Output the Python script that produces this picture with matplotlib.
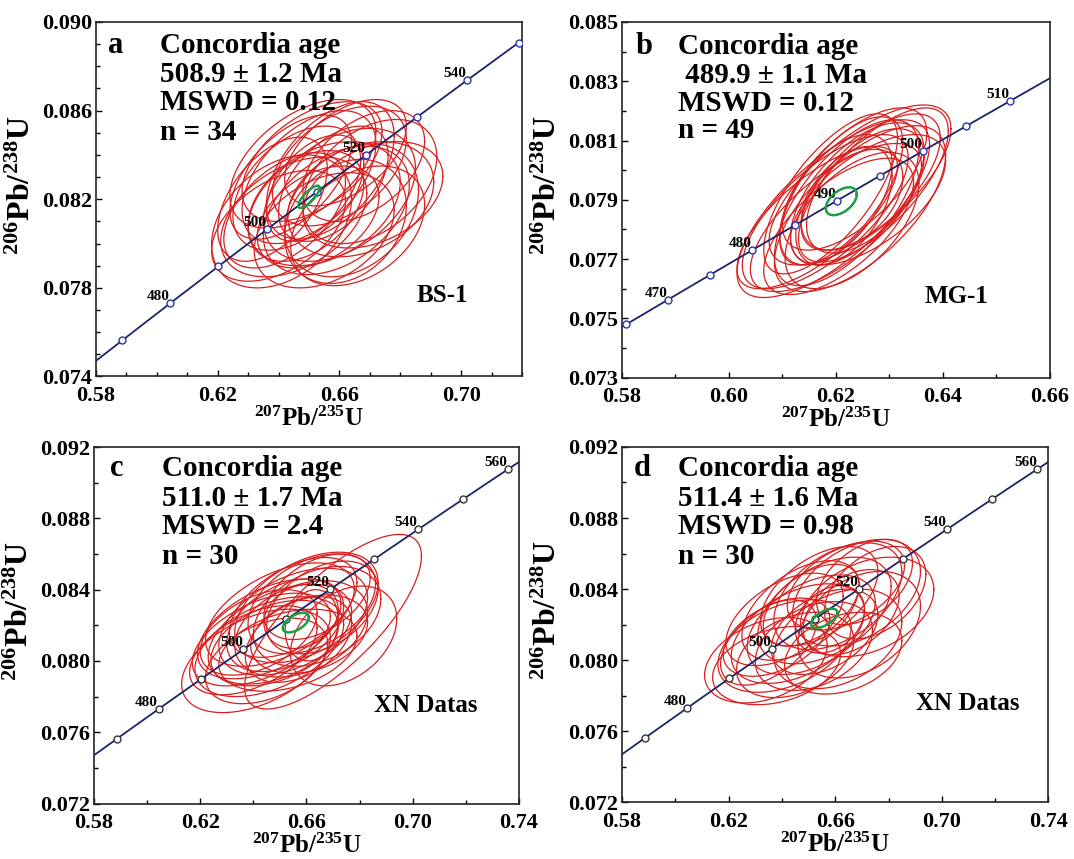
import matplotlib.pyplot as plt
import numpy as np
from matplotlib.ticker import FormatStrFormatter

plt.rcParams['font.family'] = 'Liberation Serif'
plt.rcParams['font.weight'] = 'bold'
plt.rcParams['mathtext.fontset'] = 'custom'
plt.rcParams['mathtext.rm'] = 'Liberation Serif:bold'
plt.rcParams['mathtext.it'] = 'Liberation Serif:bold'
plt.rcParams['mathtext.bf'] = 'Liberation Serif:bold'

# decay constants (1/Ma)
L238 = 1.55125e-4
L235 = 9.8485e-4

# text in the panels
panel_letters = ['a', 'b', 'c', 'd']
sample_names = ['BS-1', 'MG-1', 'XN Datas', 'XN Datas']
age_lines = ['508.9 ± 1.2 Ma', ' 489.9 ± 1.1 Ma', '511.0 ± 1.7 Ma', '511.4 ± 1.6 Ma']
mswd_values = ['0.12', '0.12', '2.4', '0.98']
n_values = [34, 49, 30, 30]

# concordia age marks (Ma) and labelled ones
marks_a = [470, 480, 490, 500, 510, 520, 530, 540, 550]
labels_a = [480, 500, 520, 540]
marks_b = [465, 470, 475, 480, 485, 490, 495, 500, 505, 510]
labels_b = [470, 480, 490, 500, 510]
marks_cd = [470, 480, 490, 500, 510, 520, 530, 540, 550, 560]
labels_cd = [480, 500, 520, 540, 560]

# error ellipses: (207Pb/235U, 206Pb/238U, half-width x, half-width y, rho)
ellipses_a = [
    (0.640, 0.0808, 0.022, 0.0025, 0.45), (0.645, 0.0812, 0.024, 0.0027, 0.40),
    (0.655, 0.0818, 0.025, 0.0028, 0.35), (0.660, 0.0822, 0.025, 0.0030, 0.40),
    (0.667, 0.0820, 0.024, 0.0026, 0.30), (0.650, 0.0830, 0.022, 0.0030, 0.50),
    (0.648, 0.0836, 0.024, 0.0029, 0.50), (0.660, 0.0835, 0.022, 0.0027, 0.45),
    (0.670, 0.0828, 0.022, 0.0028, 0.40), (0.642, 0.0815, 0.020, 0.0026, 0.50),
    (0.655, 0.0806, 0.023, 0.0026, 0.35), (0.662, 0.0810, 0.020, 0.0028, 0.25),
    (0.638, 0.0820, 0.018, 0.0028, 0.50), (0.668, 0.0835, 0.020, 0.0025, 0.45),
    (0.652, 0.0825, 0.016, 0.0024, 0.45), (0.658, 0.0827, 0.018, 0.0026, 0.50),
    (0.646, 0.0825, 0.021, 0.0028, 0.45), (0.664, 0.0815, 0.022, 0.0030, 0.30),
    (0.653, 0.0812, 0.020, 0.0023, 0.40), (0.641, 0.0810, 0.023, 0.0030, 0.35),
    (0.671, 0.0822, 0.023, 0.0024, 0.35), (0.657, 0.0833, 0.021, 0.0031, 0.50),
    (0.649, 0.0817, 0.019, 0.0025, 0.40), (0.662, 0.0841, 0.020, 0.0024, 0.50),
    (0.644, 0.0830, 0.020, 0.0028, 0.55), (0.666, 0.0808, 0.022, 0.0027, 0.35),
    (0.651, 0.0837, 0.023, 0.0027, 0.50), (0.659, 0.0815, 0.024, 0.0029, 0.40),
]
ellipses_b = [
    (0.6195, 0.0787, 0.0180, 0.0030, 0.72), (0.6230, 0.0790, 0.0095, 0.0017, 0.45),
    (0.6245, 0.0795, 0.0170, 0.0027, 0.70), (0.6200, 0.0784, 0.0160, 0.0025, 0.70),
    (0.6220, 0.0789, 0.0135, 0.0028, 0.65), (0.6240, 0.0792, 0.0125, 0.0024, 0.60),
    (0.6180, 0.0786, 0.0155, 0.0026, 0.70), (0.6260, 0.0790, 0.0145, 0.0022, 0.60),
    (0.6210, 0.0793, 0.0115, 0.0025, 0.65), (0.6230, 0.0783, 0.0125, 0.0023, 0.55),
    (0.6200, 0.0790, 0.0105, 0.0022, 0.55), (0.6265, 0.0796, 0.0130, 0.0023, 0.65),
    (0.6165, 0.0784, 0.0150, 0.0024, 0.72), (0.6245, 0.0787, 0.0160, 0.0028, 0.65),
    (0.6215, 0.0788, 0.0090, 0.0020, 0.50), (0.6255, 0.0793, 0.0110, 0.0021, 0.55),
    (0.6190, 0.0792, 0.0125, 0.0027, 0.70), (0.6270, 0.0795, 0.0140, 0.0026, 0.70),
    (0.6205, 0.0781, 0.0140, 0.0023, 0.65), (0.6235, 0.0797, 0.0135, 0.0024, 0.65),
]
ellipses_c = [
    (0.670, 0.0822, 0.0333, 0.0049, 0.75), (0.674, 0.0814, 0.020, 0.0028, 0.35),
    (0.641, 0.0800, 0.028, 0.0029, 0.45), (0.646, 0.0808, 0.028, 0.0028, 0.45),
    (0.650, 0.0815, 0.027, 0.0028, 0.45), (0.655, 0.0822, 0.028, 0.0030, 0.45),
    (0.660, 0.0830, 0.027, 0.0031, 0.45), (0.662, 0.0832, 0.024, 0.0028, 0.40),
    (0.648, 0.0810, 0.024, 0.0024, 0.40), (0.652, 0.0820, 0.022, 0.0026, 0.40),
    (0.658, 0.0818, 0.025, 0.0027, 0.35), (0.643, 0.0812, 0.026, 0.0026, 0.50),
    (0.664, 0.0825, 0.024, 0.0028, 0.35), (0.655, 0.0830, 0.024, 0.0028, 0.50),
    (0.640, 0.0806, 0.024, 0.0025, 0.50), (0.661, 0.0815, 0.022, 0.0022, 0.30),
    (0.650, 0.0826, 0.028, 0.0029, 0.50), (0.646, 0.0818, 0.027, 0.0028, 0.50),
    (0.666, 0.0830, 0.021, 0.0026, 0.40), (0.653, 0.0806, 0.026, 0.0023, 0.35),
    (0.642, 0.0816, 0.022, 0.0024, 0.45), (0.658, 0.0825, 0.014, 0.0018, 0.20),
    (0.662, 0.0820, 0.010, 0.0020, 0.15), (0.657, 0.0812, 0.020, 0.0024, 0.40),
    (0.664, 0.0836, 0.020, 0.0024, 0.45), (0.645, 0.0800, 0.023, 0.0024, 0.40),
]
ellipses_d = [
    (0.634, 0.0800, 0.023, 0.0024, 0.35), (0.638, 0.0797, 0.024, 0.0022, 0.30),
    (0.641, 0.0808, 0.025, 0.0026, 0.40), (0.646, 0.0815, 0.025, 0.0028, 0.45),
    (0.651, 0.0820, 0.024, 0.0028, 0.45), (0.656, 0.0828, 0.025, 0.0030, 0.45),
    (0.661, 0.0836, 0.024, 0.0030, 0.45), (0.668, 0.0838, 0.024, 0.0030, 0.40),
    (0.672, 0.0830, 0.025, 0.0028, 0.35), (0.669, 0.0820, 0.023, 0.0030, 0.35),
    (0.661, 0.0812, 0.024, 0.0028, 0.35), (0.652, 0.0808, 0.022, 0.0025, 0.35),
    (0.647, 0.0828, 0.022, 0.0028, 0.50), (0.656, 0.0816, 0.020, 0.0024, 0.40),
    (0.641, 0.0823, 0.022, 0.0026, 0.50), (0.664, 0.0842, 0.022, 0.0025, 0.45),
    (0.658, 0.0823, 0.013, 0.0019, 0.30), (0.651, 0.0831, 0.018, 0.0023, 0.50),
    (0.675, 0.0838, 0.019, 0.0026, 0.40), (0.638, 0.0813, 0.020, 0.0022, 0.45),
    (0.666, 0.0827, 0.018, 0.0024, 0.40), (0.645, 0.0803, 0.022, 0.0024, 0.35),
    (0.654, 0.0836, 0.022, 0.0028, 0.50), (0.671, 0.0844, 0.018, 0.0024, 0.45),
    (0.635, 0.0810, 0.018, 0.0024, 0.50), (0.663, 0.0804, 0.022, 0.0023, 0.30),
]
# concordia age ellipses (green)
mean_a = (0.6500, 0.08211, 0.0035, 0.00050, 0.80)
mean_b = (0.6210, 0.07895, 0.0029, 0.00047, 0.50)
mean_c = (0.6560, 0.08215, 0.0049, 0.00055, 0.55)
mean_d = (0.6559, 0.08236, 0.0049, 0.00054, 0.60)

RED = '#d81f1f'
GREEN = '#1a9e45'
NAVY = '#1c2566'


def ellipse_xy(cx, cy, sx, sy, rho):
    t = np.linspace(0, 2 * np.pi, 200)
    x = cx + sx * np.cos(t)
    y = cy + sy * (rho * np.cos(t) + np.sqrt(1 - rho ** 2) * np.sin(t))
    return x, y


def concordia(age):
    age = np.asarray(age, dtype=float)
    return np.exp(L235 * age) - 1, np.exp(L238 * age) - 1


def ticks(lo, hi, step):
    n = int(np.floor((hi - lo) / step + 1e-6))
    return np.round(lo + step * np.arange(n + 1), 4)


def draw_panel(ax, ellipses, mean, marks, labels, mark_color, xlim, ylim,
               xmaj, xmin, ymaj, ymin, i, text_x, letter_x, line_y, name_pos):
    for e in ellipses:
        x, y = ellipse_xy(*e)
        ax.plot(x, y, color=RED, lw=0.9, zorder=2)

    t = np.linspace(400, 650, 500)
    cx, cy = concordia(t)
    ax.plot(cx, cy, color=NAVY, lw=1.3, zorder=3)
    mx, my = concordia(marks)
    ax.plot(mx, my, 'o', ms=5, mfc='white', mec=mark_color, mew=1.0, zorder=4)
    for age in labels:
        lx, ly = concordia(age)
        ax.annotate(str(age), (lx, ly), xytext=(-0.5, 0), textcoords='offset points',
                    ha='right', va='bottom', fontsize=11, fontweight='bold', zorder=5)

    gx, gy = ellipse_xy(*mean)
    ax.plot(gx, gy, color=GREEN, lw=1.8, zorder=6)

    ax.set_xticks(ticks(xlim[0], xlim[1], xmaj))
    ax.set_xticks(ticks(xlim[0], xlim[1], xmin), minor=True)
    ax.set_yticks(ticks(ylim[0], ylim[1], ymaj))
    ax.set_yticks(ticks(ylim[0], ylim[1], ymin), minor=True)
    ax.set_xlim(*xlim)
    ax.set_ylim(*ylim)
    ax.xaxis.set_major_formatter(FormatStrFormatter('%.2f'))
    ax.yaxis.set_major_formatter(FormatStrFormatter('%.3f'))
    ax.tick_params(which='both', direction='in', top=False, right=False,
                   labelsize=16, width=1.0)
    ax.tick_params(which='major', length=4)
    ax.tick_params(which='minor', length=3)
    ax.tick_params(axis='y', pad=3)
    ax.tick_params(axis='x', pad=7)
    for s in ax.spines.values():
        s.set_linewidth(1.2)
        s.set_color('#222222')

    ax.set_xlabel(r'$^{207}$Pb/$^{235}$U', fontsize=18, fontweight='bold', labelpad=0)
    ax.set_ylabel(r'$^{206}$Pb/$^{238}$U', fontsize=23, fontweight='bold')
    ax.yaxis.set_label_coords(-0.138, 0.54)

    ax.text(letter_x, line_y[0], panel_letters[i], transform=ax.transAxes,
            fontsize=22, fontweight='bold', va='baseline')
    lines = ['Concordia age', age_lines[i], 'MSWD = ' + mswd_values[i],
             'n = ' + str(n_values[i])]
    for txt, yy in zip(lines, line_y):
        ax.text(text_x, yy, txt, transform=ax.transAxes, fontsize=21,
                fontweight='bold', va='baseline')
    ax.text(name_pos[0], name_pos[1], sample_names[i], transform=ax.transAxes,
            fontsize=18, fontweight='bold', va='baseline')


fig = plt.figure(figsize=(10.74, 8.59), dpi=100)
ax_a = fig.add_axes([0.0894, 0.5617, 0.3966, 0.4127])
ax_b = fig.add_axes([0.5791, 0.5605, 0.3985, 0.4139])
ax_c = fig.add_axes([0.0875, 0.0646, 0.3957, 0.4150])
ax_d = fig.add_axes([0.5791, 0.0658, 0.3971, 0.4139])

draw_panel(ax_a, ellipses_a, mean_a, marks_a, labels_a, '#2b36a8',
           (0.58, 0.72), (0.074, 0.090), 0.04, 0.01, 0.004, 0.001, 0,
           0.150, 0.029, [0.913, 0.831, 0.752, 0.667], (0.753, 0.210))
draw_panel(ax_b, ellipses_b, mean_b, marks_b, labels_b, '#2b36a8',
           (0.58, 0.66), (0.073, 0.085), 0.02, 0.01, 0.002, 0.001, 1,
           0.131, 0.031, [0.910, 0.829, 0.751, 0.675], (0.708, 0.210))
draw_panel(ax_c, ellipses_c, mean_c, marks_cd, labels_cd, '#333333',
           (0.58, 0.74), (0.072, 0.092), 0.04, 0.02, 0.004, 0.002, 2,
           0.160, 0.038, [0.919, 0.835, 0.756, 0.672], (0.658, 0.256))
draw_panel(ax_d, ellipses_d, mean_d, marks_cd, labels_cd, '#333333',
           (0.58, 0.74), (0.072, 0.092), 0.04, 0.02, 0.004, 0.002, 3,
           0.131, 0.027, [0.919, 0.835, 0.756, 0.672], (0.689, 0.260))

fig.savefig('out.png', dpi=100)
